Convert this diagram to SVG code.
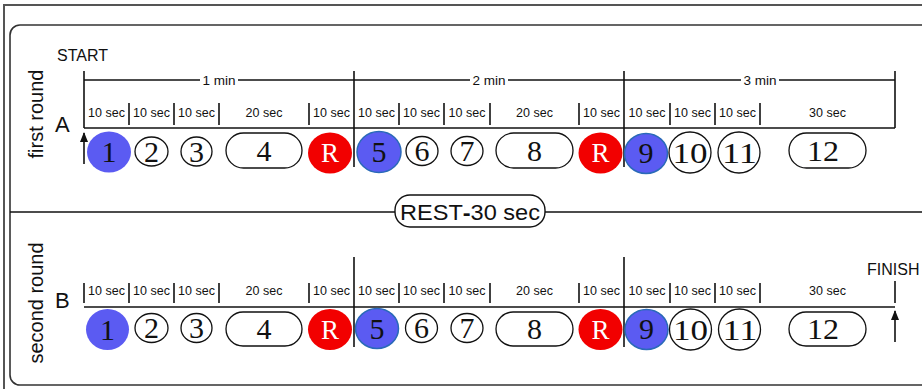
<svg xmlns="http://www.w3.org/2000/svg" width="922" height="389" viewBox="0 0 922 389">
<defs>
<marker id="arr" viewBox="0 0 10 8" refX="9" refY="4" markerWidth="11" markerHeight="8" orient="auto" markerUnits="userSpaceOnUse">
<path d="M0,0 L10,4 L0,8 Z" fill="#111"/>
</marker>
<style>
.frame{fill:none;stroke:#555;stroke-width:2}
.inner{fill:none;stroke:#333;stroke-width:1.6}
.ln{stroke:#111;stroke-width:1.5;fill:none}
.tk{stroke:#111;stroke-width:1.6}
.sec{font-family:"Liberation Sans",Arial,sans-serif;font-size:12.5px;fill:#111;text-anchor:middle}
.min{font-family:"Liberation Sans",Arial,sans-serif;font-size:13.5px;fill:#111;text-anchor:middle}
.lbl{font-family:"Liberation Sans",Arial,sans-serif;fill:#111}
.w{fill:#fff;stroke:#111;stroke-width:1.3}
.b{fill:#5b5bf2;stroke:none}
.bb{fill:#5b5bf2;stroke:#2a6ab8;stroke-width:1.5}
.r{fill:#f20000;stroke:none}
.num{font-family:"Liberation Serif","Times New Roman",serif;font-size:30px;fill:#111;text-anchor:middle}
.rt{font-family:"Liberation Serif","Times New Roman",serif;font-size:27px;fill:#fff;text-anchor:middle}
</style>
</defs>
<rect width="922" height="389" fill="#fff"/>
<path class="frame" d="M4,389 V5 H922"/>
<rect class="inner" x="10" y="25" width="930" height="360" rx="10"/>

<g id="labels">
<text class="lbl" x="57" y="61" font-size="16">START</text>
<text class="lbl" x="867" y="275" font-size="16">FINISH</text>
<text class="lbl" x="55" y="132" font-size="22">A</text>
<text class="lbl" x="55" y="308" font-size="22">B</text>
<text class="lbl" font-size="20" text-anchor="middle" transform="translate(43,114) rotate(-90)">first round</text>
<text class="lbl" font-size="20" text-anchor="middle" transform="translate(43,303) rotate(-90)">second round</text>
</g>

<g id="connectors">
<line class="ln" x1="10" y1="212" x2="395" y2="212"/>
<line class="ln" x1="545" y1="212" x2="922" y2="212"/>
<line class="ln" x1="84" y1="80" x2="200" y2="80"/>
<line class="ln" x1="238" y1="80" x2="470" y2="80"/>
<line class="ln" x1="508" y1="80" x2="741" y2="80"/>
<line class="ln" x1="779" y1="80" x2="895" y2="80"/>
<line class="tk" x1="84" y1="71" x2="84" y2="128"/>
<line class="tk" x1="354" y1="71" x2="354" y2="167"/>
<line class="tk" x1="624" y1="71" x2="624" y2="167"/>
<line class="tk" x1="895" y1="71" x2="895" y2="128"/>
<line class="ln" x1="84" y1="128" x2="895" y2="128"/>
<g class="tk">
<line x1="129" y1="103" x2="129" y2="125"/><line x1="174" y1="103" x2="174" y2="125"/><line x1="219" y1="103" x2="219" y2="125"/><line x1="309" y1="103" x2="309" y2="125"/>
<line x1="399" y1="103" x2="399" y2="125"/><line x1="444" y1="103" x2="444" y2="125"/><line x1="490" y1="103" x2="490" y2="125"/><line x1="579" y1="103" x2="579" y2="125"/>
<line x1="670" y1="103" x2="670" y2="125"/><line x1="715" y1="103" x2="715" y2="125"/><line x1="760" y1="103" x2="760" y2="125"/>
</g>
<line class="tk" x1="84" y1="164" x2="84" y2="133" marker-end="url(#arr)"/>
<line class="ln" x1="84" y1="307" x2="895" y2="307"/>
<line class="tk" x1="354" y1="257" x2="354" y2="347"/>
<line class="tk" x1="624" y1="257" x2="624" y2="347"/>
<g class="tk">
<line x1="84" y1="283" x2="84" y2="303"/><line x1="129" y1="283" x2="129" y2="303"/><line x1="174" y1="283" x2="174" y2="303"/><line x1="219" y1="283" x2="219" y2="303"/><line x1="309" y1="283" x2="309" y2="303"/>
<line x1="399" y1="283" x2="399" y2="303"/><line x1="444" y1="283" x2="444" y2="303"/><line x1="490" y1="283" x2="490" y2="303"/><line x1="579" y1="283" x2="579" y2="303"/>
<line x1="670" y1="283" x2="670" y2="303"/><line x1="715" y1="283" x2="715" y2="303"/><line x1="760" y1="283" x2="760" y2="303"/><line x1="895" y1="281" x2="895" y2="303"/>
</g>
<line class="tk" x1="895" y1="342" x2="895" y2="311" marker-end="url(#arr)"/>
</g>

<g id="timeA-text">
<text class="min" x="219" y="85">1 min</text>
<text class="min" x="489" y="85">2 min</text>
<text class="min" x="760" y="85">3 min</text>
<text class="sec" x="106.5" y="117">10 sec</text><text class="sec" x="151.5" y="117">10 sec</text><text class="sec" x="196.5" y="117">10 sec</text><text class="sec" x="264" y="117">20 sec</text><text class="sec" x="331.5" y="117">10 sec</text>
<text class="sec" x="376.5" y="117">10 sec</text><text class="sec" x="421.5" y="117">10 sec</text><text class="sec" x="467" y="117">10 sec</text><text class="sec" x="534.5" y="117">20 sec</text><text class="sec" x="601.5" y="117">10 sec</text>
<text class="sec" x="647" y="117">10 sec</text><text class="sec" x="692.5" y="117">10 sec</text><text class="sec" x="737.5" y="117">10 sec</text><text class="sec" x="827.5" y="117">30 sec</text>
</g>
<g id="timeB-text">
<text class="sec" x="106.5" y="295">10 sec</text><text class="sec" x="151.5" y="295">10 sec</text><text class="sec" x="196.5" y="295">10 sec</text><text class="sec" x="264" y="295">20 sec</text><text class="sec" x="331.5" y="295">10 sec</text>
<text class="sec" x="376.5" y="295">10 sec</text><text class="sec" x="421.5" y="295">10 sec</text><text class="sec" x="467" y="295">10 sec</text><text class="sec" x="534.5" y="295">20 sec</text><text class="sec" x="601.5" y="295">10 sec</text>
<text class="sec" x="647" y="295">10 sec</text><text class="sec" x="692.5" y="295">10 sec</text><text class="sec" x="737.5" y="295">10 sec</text><text class="sec" x="827.5" y="295">30 sec</text>
</g>

<g id="rest">
<rect x="395" y="195" width="150" height="32" rx="15" fill="#fff" stroke="#111" stroke-width="1.4"/>
<text class="lbl" x="470" y="219.5" font-size="22" text-anchor="middle" textLength="140" lengthAdjust="spacingAndGlyphs">REST<tspan font-weight="bold">-</tspan>30 sec</text>
</g>

<g id="A1"><ellipse class="b" cx="109" cy="152" rx="22" ry="20.5"/><text class="num" x="109" y="162">1</text></g>
<g id="A2"><ellipse class="w" cx="151.5" cy="151.5" rx="16.5" ry="14.5"/><text class="num" x="151.5" y="161.5">2</text></g>
<g id="A3"><ellipse class="w" cx="196.5" cy="151.5" rx="15.5" ry="14.5"/><text class="num" x="196.5" y="161.5">3</text></g>
<g id="A4"><rect class="w" x="226" y="133" width="76" height="35" rx="17.5"/><text class="num" x="264" y="161">4</text></g>
<g id="AR1"><ellipse class="r" cx="330" cy="153" rx="22" ry="20.5"/><text class="rt" x="330" y="162">R</text></g>
<g id="A5"><ellipse class="bb" cx="379" cy="152" rx="22" ry="20.5"/><text class="num" x="379" y="162">5</text></g>
<g id="A6"><ellipse class="w" cx="422" cy="151" rx="16" ry="14.5"/><text class="num" x="422" y="161">6</text></g>
<g id="A7"><ellipse class="w" cx="467" cy="151" rx="16" ry="14.5"/><text class="num" x="467" y="161">7</text></g>
<g id="A8"><rect class="w" x="496" y="133" width="77" height="35" rx="17.5"/><text class="num" x="534.5" y="161">8</text></g>
<g id="AR2"><ellipse class="r" cx="600.5" cy="153" rx="22" ry="20.5"/><text class="rt" x="600.5" y="162">R</text></g>
<g id="A9"><ellipse class="bb" cx="646" cy="153.5" rx="21.5" ry="20"/><text class="num" x="646" y="163">9</text></g>
<g id="A10"><ellipse class="w" cx="690" cy="152.5" rx="21" ry="20.5"/><text class="num" x="690" y="163" textLength="35" lengthAdjust="spacingAndGlyphs">10</text></g>
<g id="A11"><ellipse class="w" cx="739" cy="152.5" rx="21" ry="20.5"/><text class="num" x="739.5" y="163" textLength="35" lengthAdjust="spacingAndGlyphs">11</text></g>
<g id="A12"><rect class="w" x="789" y="133" width="77" height="35" rx="17.5"/><text class="num" x="823" y="161" textLength="32" lengthAdjust="spacingAndGlyphs">12</text></g>

<g id="B1"><ellipse class="b" cx="107.5" cy="329.5" rx="21.5" ry="20.5"/><text class="num" x="107.5" y="339.5">1</text></g>
<g id="B2"><ellipse class="w" cx="151.5" cy="328" rx="16.5" ry="14.5"/><text class="num" x="151.5" y="338">2</text></g>
<g id="B3"><ellipse class="w" cx="196.5" cy="328" rx="15.5" ry="14.5"/><text class="num" x="196.5" y="338">3</text></g>
<g id="B4"><rect class="w" x="226" y="312" width="76" height="34" rx="17"/><text class="num" x="264" y="339">4</text></g>
<g id="BR1"><ellipse class="r" cx="330" cy="329.5" rx="22" ry="20.5"/><text class="rt" x="330" y="338.5">R</text></g>
<g id="B5"><ellipse class="bb" cx="377" cy="328.5" rx="21.5" ry="20"/><text class="num" x="377" y="338.5">5</text></g>
<g id="B6"><ellipse class="w" cx="421.5" cy="328" rx="16" ry="14.5"/><text class="num" x="421.5" y="338">6</text></g>
<g id="B7"><ellipse class="w" cx="467" cy="328" rx="16" ry="14.5"/><text class="num" x="467" y="338">7</text></g>
<g id="B8"><rect class="w" x="496" y="312" width="77" height="34" rx="17"/><text class="num" x="534.5" y="339">8</text></g>
<g id="BR2"><ellipse class="r" cx="600.5" cy="329.5" rx="22" ry="20.5"/><text class="rt" x="600.5" y="338.5">R</text></g>
<g id="B9"><ellipse class="bb" cx="646.5" cy="329.5" rx="21.5" ry="20"/><text class="num" x="646.5" y="339">9</text></g>
<g id="B10"><ellipse class="w" cx="690.5" cy="329.5" rx="21" ry="20.5"/><text class="num" x="690.5" y="340" textLength="35" lengthAdjust="spacingAndGlyphs">10</text></g>
<g id="B11"><ellipse class="w" cx="739.5" cy="329.5" rx="21" ry="20.5"/><text class="num" x="740" y="340" textLength="35" lengthAdjust="spacingAndGlyphs">11</text></g>
<g id="B12"><rect class="w" x="789" y="312" width="77" height="34" rx="17"/><text class="num" x="823" y="339" textLength="32" lengthAdjust="spacingAndGlyphs">12</text></g>
</svg>
